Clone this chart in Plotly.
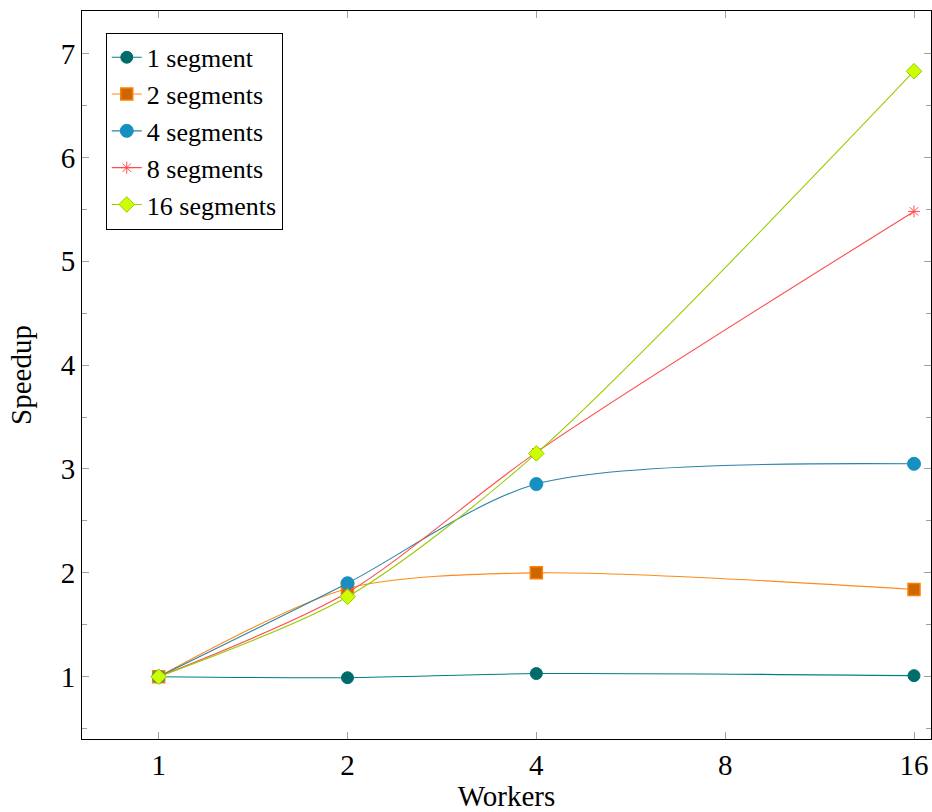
import plotly.graph_objects as go
import math

workers = [1, 2, 4, 16]
tick_vals = [1, 2, 4, 8, 16]
tick_text = ["1", "2", "4", "8", "16"]

seg1 = [1.0, 0.99, 1.03, 1.01]
seg2 = [1.0, 1.85, 2.0, 1.84]
seg4 = [1.0, 1.90, 2.855, 3.05]
seg8 = [1.0, 1.81, 3.16, 5.48]
seg16 = [1.0, 1.77, 3.15, 6.83]

series = [
    ("1 segment", seg1, "#008080", dict(symbol="circle", size=12, color="#006b6b", line=dict(color="#007070", width=1))),
    ("2 segments", seg2, "#ff8a1c", dict(symbol="square", size=12, color="#cc6600", line=dict(color="#ff8000", width=1.5))),
    ("4 segments", seg4, "#2a84a6", dict(symbol="circle", size=13, color="#1590c0", line=dict(color="#1590c0", width=1))),
    ("8 segments", seg8, "#ff4d4d", dict(symbol="asterisk-open", size=10, color="#ff4d4d", line=dict(color="#ff4d4d", width=1))),
    ("16 segments", seg16, "#99cc00", dict(symbol="diamond", size=12, color="#ccff00", line=dict(color="#99cc00", width=1))),
]

fig = go.Figure()
for name, vals, lc, mk in series:
    fig.add_trace(go.Scatter(
        x=workers, y=vals, name=name, mode="lines+markers",
        line=dict(color=lc, width=1.1, shape="spline", smoothing=0.8),
        marker=mk,
    ))

font = dict(family="Liberation Serif, DejaVu Serif, serif", size=29, color="black")
xr = [-0.406 * math.log10(2), 4.09 * math.log10(2)]

fig.update_layout(
    width=932, height=812,
    margin=dict(l=82, r=1, t=11, b=73),
    paper_bgcolor="white", plot_bgcolor="white",
    font=font,
    showlegend=True,
    legend=dict(
        x=0.028, y=0.97, xanchor="left", yanchor="top",
        bordercolor="black", borderwidth=1, bgcolor="white",
        font=dict(family="Liberation Serif, DejaVu Serif, serif", size=26),
        tracegroupgap=0, itemsizing="trace",
        entrywidth=215, entrywidthmode="pixels",
    ),
    xaxis=dict(
        type="log", range=xr, tickvals=tick_vals, ticktext=tick_text,
        showgrid=False, zeroline=False,
        showline=True, linecolor="black", linewidth=1, mirror="allticks",
        ticks="inside", ticklen=7, tickcolor="#a0a0a0", tickwidth=1,
        title=dict(text="Workers", standoff=4, font=font),
        tickfont=font,
    ),
    yaxis=dict(
        range=[0.40, 7.41], tickvals=[1, 2, 3, 4, 5, 6, 7],
        showgrid=False, zeroline=False,
        showline=True, linecolor="black", linewidth=1, mirror="allticks",
        ticks="inside", ticklen=7, tickcolor="#a0a0a0", tickwidth=1,
        minor=dict(ticks="inside", dtick=0.5, tick0=0, ticklen=5, tickcolor="#a0a0a0", showgrid=False),
        title=dict(text="Speedup", standoff=20, font=font),
        tickfont=font,
    ),
)

fig.write_html("out.html", config={"displayModeBar": False},
               post_script="document.body.style.margin='0px';document.body.style.overflow='hidden';")
